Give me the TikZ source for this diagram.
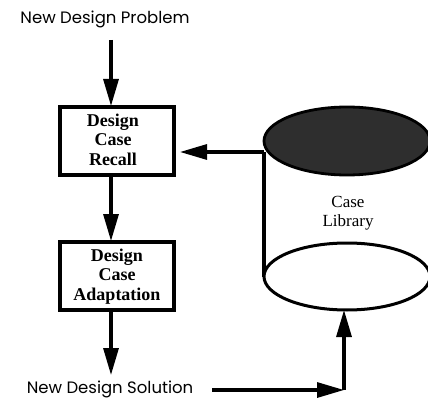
\documentclass[tikz,border=0pt]{standalone}
\usepackage{fontspec}
\setmainfont{Liberation Serif}
\newfontfamily\labelfont{Poppins}
\usetikzlibrary{arrows.meta}
\begin{document}
\begin{tikzpicture}[x=1pt,y=-1pt,
  flow/.style={line width=3.2pt,-{Triangle[length=27pt,width=15pt]}},
  procbox/.style={draw,line width=3.2pt,minimum width=114pt,minimum height=68pt,inner sep=0pt},
  boxtext/.style={font=\fontsize{18}{19.5}\selectfont\bfseries,align=center,anchor=north},
  lbl/.style={font=\labelfont\fontsize{16.5}{18}\selectfont,inner sep=0pt}]
\useasboundingbox (0,0) rectangle (428,398);
\node[lbl] (prob) at (105,19) {New Design Problem};
\node[lbl] (sol) at (110,389) {New Design Solution};
\node[procbox] (recall) at (117,141) {};
\node[boxtext] (recalltxt) at (113,110) {Design\\Case\\Recall};
\node[procbox] (adapt) at (117,276) {};
\node[boxtext] (adapttxt) at (117,245) {Design\\Case\\Adaptation};
% cylinder
\coordinate (topc) at (347,141);
\coordinate (botc) at (347,276.5);
\draw[line width=3.2pt] (264,276.5) -- (264,152);
\draw[line width=3.2pt] (430,276.5) -- (430,141);
\draw[line width=2.8pt,fill=black!82] (topc) ellipse [x radius=83, y radius=34];
\draw[line width=3pt,fill=white] (botc) ellipse [x radius=83, y radius=33.5];
\node[font=\fontsize{17}{19}\selectfont,align=center] (lib) at (348,213) {Case\\Library};
\coordinate (libin) at (264,152);
\coordinate (corner) at (344,390);
\coordinate (solend) at (212,390);
\coordinate (libbot) at (344,310);
% arrows
\draw[flow] (111,40) -- (111,106);
\draw[flow] (111,175) -- (111,241);
\draw[flow] (111,310) -- (111,375);
\draw[flow] (libin) -- (180,152);
\draw[flow] (solend) -- (corner);
\draw[flow] (corner) -- (libbot);
\end{tikzpicture}
\end{document}
